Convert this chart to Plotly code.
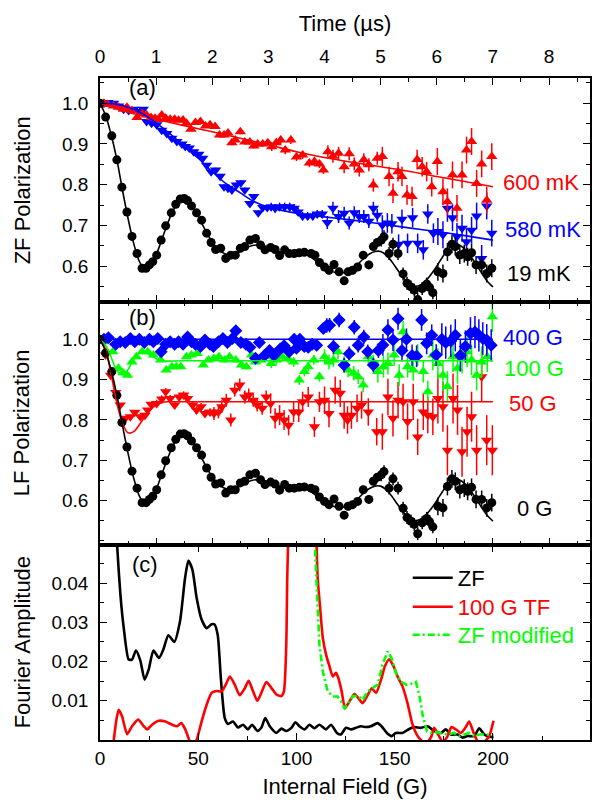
import plotly.graph_objects as go

# ---------------- data: panel (a) ZF, panel (b) LF (time in microseconds) ----------------
t_zf = [0.00, 0.10, 0.21, 0.30, 0.39, 0.48, 0.57, 0.66, 0.75, 0.82, 0.88, 0.94, 1.01, 1.09, 1.17, 1.27, 1.35, 1.43, 1.50, 1.56,
        1.63, 1.72, 1.81, 1.90, 1.98, 2.06, 2.15, 2.24, 2.33, 2.41, 2.50, 2.58, 2.67, 2.77, 2.86, 2.94, 3.04, 3.12, 3.20, 3.29,
        3.37, 3.46, 3.55, 3.64, 3.76, 3.83, 3.91, 4.00, 4.08, 4.17, 4.26, 4.35, 4.42, 4.50, 4.59, 4.69, 4.79, 4.87, 4.94, 5.01,
        5.06, 5.15, 5.22, 5.31, 5.40, 5.47, 5.54, 5.60, 5.66, 5.74, 5.82, 5.87, 5.93, 6.02, 6.11, 6.19, 6.27, 6.33, 6.41, 6.49,
        6.55, 6.62, 6.70, 6.80, 6.89, 6.98]
p_zf = [1.000, 0.966, 0.920, 0.861, 0.794, 0.733, 0.673, 0.631, 0.595, 0.595, 0.603, 0.611, 0.627, 0.664, 0.699, 0.731, 0.752, 0.765, 0.766, 0.761,
        0.748, 0.731, 0.713, 0.681, 0.658, 0.641, 0.644, 0.619, 0.627, 0.627, 0.644, 0.648, 0.664, 0.668, 0.652, 0.640, 0.646, 0.641, 0.626, 0.640,
        0.631, 0.631, 0.633, 0.634, 0.631, 0.627, 0.609, 0.598, 0.590, 0.604, 0.586, 0.564, 0.586, 0.590, 0.598, 0.627, 0.603, 0.648, 0.658, 0.664,
        0.672, 0.631, 0.654, 0.631, 0.581, 0.558, 0.549, 0.541, 0.518, 0.545, 0.556, 0.548, 0.535, 0.586, 0.582, 0.635, 0.654, 0.648, 0.627, 0.631,
        0.623, 0.633, 0.603, 0.603, 0.582, 0.595]
e_zf = [0.003, 0.003, 0.003, 0.003, 0.003, 0.003, 0.003, 0.003, 0.003, 0.003, 0.003, 0.003, 0.003, 0.003, 0.003, 0.003, 0.003, 0.003, 0.003, 0.003,
        0.003, 0.003, 0.003, 0.003, 0.003, 0.003, 0.003, 0.003, 0.003, 0.003, 0.003, 0.003, 0.003, 0.003, 0.003, 0.003, 0.006, 0.006, 0.006, 0.006,
        0.006, 0.006, 0.006, 0.006, 0.006, 0.006, 0.006, 0.010, 0.010, 0.010, 0.010, 0.010, 0.010, 0.010, 0.010, 0.010, 0.010, 0.010, 0.010, 0.016,
        0.016, 0.016, 0.016, 0.016, 0.016, 0.016, 0.016, 0.016, 0.016, 0.016, 0.016, 0.016, 0.016, 0.022, 0.022, 0.022, 0.022, 0.022, 0.022, 0.022,
        0.022, 0.022, 0.022, 0.022, 0.022, 0.022]

t_r600 = [0.07, 0.14, 0.24, 0.33, 0.42, 0.48, 0.57, 0.66, 0.75, 0.83, 0.91, 0.98, 1.04, 1.10, 1.17, 1.25, 1.33, 1.40, 1.48, 1.54,
          1.62, 1.70, 1.79, 1.88, 1.96, 2.05, 2.13, 2.21, 2.28, 2.35, 2.41, 2.50, 2.58, 2.67, 2.74, 2.81, 2.90, 2.99, 3.06, 3.14,
          3.22, 3.30, 3.40, 3.50, 3.61, 3.73, 3.82, 3.91, 3.98, 4.06, 4.15, 4.25, 4.35, 4.44, 4.53, 4.62, 4.70, 4.79, 4.87, 4.94,
          5.03, 5.15, 5.22, 5.31, 5.38, 5.47, 5.56, 5.65, 5.74, 5.82, 5.91, 6.01, 6.11, 6.19, 6.28, 6.36, 6.45, 6.53, 6.62, 6.71,
          6.80, 6.89, 6.98]
p_r600 = [1.000, 0.997, 0.993, 0.990, 0.985, 0.990, 0.982, 0.965, 0.975, 0.971, 0.965, 0.963, 0.960, 0.971, 0.963, 0.961, 0.961, 0.958, 0.959, 0.951,
          0.936, 0.953, 0.955, 0.944, 0.947, 0.943, 0.922, 0.922, 0.927, 0.903, 0.910, 0.930, 0.905, 0.905, 0.895, 0.900, 0.900, 0.903, 0.893, 0.903,
          0.910, 0.885, 0.910, 0.868, 0.873, 0.853, 0.857, 0.851, 0.836, 0.881, 0.870, 0.877, 0.844, 0.876, 0.851, 0.836, 0.861, 0.849, 0.799, 0.865,
          0.869, 0.820, 0.779, 0.832, 0.820, 0.775, 0.771, 0.862, 0.844, 0.832, 0.795, 0.857, 0.783, 0.758, 0.824, 0.742, 0.824, 0.885, 0.906, 0.803,
          0.851, 0.762, 0.869]
e_r600 = [0.004, 0.004, 0.004, 0.004, 0.004, 0.004, 0.004, 0.004, 0.004, 0.004, 0.004, 0.004, 0.004, 0.004, 0.004, 0.004, 0.004, 0.004, 0.004, 0.004,
          0.004, 0.004, 0.004, 0.004, 0.004, 0.006, 0.006, 0.006, 0.006, 0.006, 0.006, 0.006, 0.006, 0.006, 0.006, 0.006, 0.006, 0.006, 0.010, 0.010,
          0.010, 0.010, 0.010, 0.010, 0.010, 0.010, 0.010, 0.010, 0.010, 0.016, 0.016, 0.016, 0.016, 0.016, 0.016, 0.016, 0.016, 0.016, 0.016, 0.016,
          0.024, 0.024, 0.024, 0.024, 0.024, 0.024, 0.024, 0.024, 0.024, 0.024, 0.024, 0.033, 0.033, 0.033, 0.033, 0.033, 0.033, 0.033, 0.033, 0.033,
          0.033, 0.033, 0.033]

t_b580 = [0.07, 0.14, 0.24, 0.33, 0.42, 0.51, 0.60, 0.68, 0.77, 0.83, 0.92, 1.01, 1.10, 1.19, 1.28, 1.37, 1.46, 1.52, 1.59, 1.67,
          1.76, 1.83, 1.90, 1.98, 2.06, 2.14, 2.21, 2.28, 2.35, 2.43, 2.51, 2.58, 2.67, 2.74, 2.82, 2.90, 2.98, 3.05, 3.12, 3.20,
          3.29, 3.38, 3.46, 3.53, 3.61, 3.70, 3.79, 3.87, 3.96, 4.05, 4.15, 4.25, 4.35, 4.44, 4.53, 4.62, 4.70, 4.79, 4.87, 4.94,
          5.03, 5.12, 5.20, 5.32, 5.38, 5.48, 5.57, 5.66, 5.76, 5.84, 5.94, 6.02, 6.11, 6.19, 6.28, 6.36, 6.45, 6.53, 6.62, 6.71,
          6.80, 6.89, 6.98]
p_b580 = [1.000, 1.002, 1.000, 0.993, 0.985, 0.982, 0.985, 0.980, 0.985, 0.955, 0.951, 0.947, 0.934, 0.926, 0.914, 0.906, 0.900, 0.894, 0.890, 0.881,
          0.875, 0.865, 0.848, 0.832, 0.836, 0.821, 0.795, 0.791, 0.787, 0.799, 0.805, 0.787, 0.754, 0.771, 0.731, 0.744, 0.744, 0.746, 0.742, 0.746,
          0.746, 0.746, 0.742, 0.733, 0.723, 0.723, 0.723, 0.728, 0.728, 0.707, 0.742, 0.722, 0.730, 0.706, 0.731, 0.722, 0.722, 0.710, 0.742, 0.725,
          0.701, 0.706, 0.704, 0.654, 0.715, 0.656, 0.719, 0.656, 0.640, 0.728, 0.681, 0.685, 0.677, 0.742, 0.719, 0.673, 0.693, 0.660, 0.688, 0.723,
          0.619, 0.748, 0.681]
e_b580 = [0.004, 0.004, 0.004, 0.004, 0.004, 0.004, 0.004, 0.004, 0.004, 0.004, 0.004, 0.004, 0.004, 0.004, 0.004, 0.004, 0.004, 0.004, 0.004, 0.004,
          0.004, 0.004, 0.004, 0.004, 0.006, 0.006, 0.006, 0.006, 0.006, 0.006, 0.006, 0.006, 0.006, 0.006, 0.006, 0.006, 0.006, 0.010, 0.010, 0.010,
          0.010, 0.010, 0.010, 0.010, 0.010, 0.010, 0.010, 0.010, 0.010, 0.016, 0.016, 0.016, 0.016, 0.016, 0.016, 0.016, 0.016, 0.016, 0.016, 0.016,
          0.024, 0.024, 0.024, 0.024, 0.024, 0.024, 0.024, 0.024, 0.024, 0.024, 0.024, 0.033, 0.033, 0.033, 0.033, 0.033, 0.033, 0.033, 0.033, 0.033,
          0.033, 0.033, 0.033]

t_b400 = [0.07, 0.15, 0.28, 0.36, 0.45, 0.54, 0.62, 0.70, 0.79, 0.88, 0.95, 1.03, 1.09, 1.17, 1.25, 1.33, 1.40, 1.48, 1.56, 1.63,
          1.70, 1.79, 1.87, 1.96, 2.02, 2.11, 2.19, 2.27, 2.36, 2.42, 2.51, 2.60, 2.67, 2.77, 2.84, 2.93, 3.02, 3.10, 3.21, 3.28,
          3.37, 3.46, 3.50, 3.56, 3.64, 3.71, 3.78, 3.86, 3.98, 4.04, 4.09, 4.16, 4.26, 4.35, 4.44, 4.53, 4.60, 4.70, 4.77, 4.87,
          4.96, 5.04, 5.13, 5.22, 5.31, 5.38, 5.46, 5.56, 5.64, 5.73, 5.82, 5.91, 5.99, 6.09, 6.16, 6.25, 6.33, 6.42, 6.51, 6.60,
          6.68, 6.75, 6.82, 6.89, 6.97]
p_b400 = [1.000, 1.004, 0.988, 0.994, 0.992, 1.002, 0.994, 1.000, 0.992, 1.000, 0.994, 1.002, 0.969, 0.988, 0.994, 0.988, 0.994, 0.988, 1.006, 0.994,
          0.988, 0.982, 0.998, 0.988, 0.982, 0.994, 1.002, 0.992, 1.002, 1.021, 0.992, 0.988, 0.980, 0.953, 0.992, 0.960, 0.972, 0.960, 0.976, 0.984,
          0.969, 1.000, 0.978, 1.000, 0.982, 0.980, 0.988, 0.985, 1.027, 1.034, 1.035, 0.982, 1.048, 0.936, 0.964, 1.030, 0.985, 1.006, 0.969, 0.936,
          0.972, 0.986, 1.023, 0.998, 1.051, 0.972, 1.000, 0.960, 0.958, 1.048, 0.990, 1.010, 0.961, 1.000, 0.992, 0.996, 1.010, 0.960, 0.982, 1.015,
          1.018, 1.010, 1.002, 0.998, 0.985]
e_b400 = [0.004, 0.004, 0.004, 0.004, 0.004, 0.004, 0.004, 0.004, 0.004, 0.004, 0.004, 0.004, 0.004, 0.004, 0.004, 0.004, 0.004, 0.004, 0.004, 0.004,
          0.004, 0.004, 0.004, 0.004, 0.007, 0.007, 0.007, 0.007, 0.007, 0.007, 0.007, 0.007, 0.007, 0.007, 0.007, 0.007, 0.012, 0.012, 0.012, 0.012,
          0.012, 0.012, 0.012, 0.012, 0.012, 0.012, 0.012, 0.012, 0.012, 0.018, 0.018, 0.018, 0.018, 0.018, 0.018, 0.018, 0.018, 0.018, 0.018, 0.018,
          0.018, 0.027, 0.027, 0.027, 0.027, 0.027, 0.027, 0.027, 0.027, 0.027, 0.027, 0.027, 0.027, 0.040, 0.040, 0.040, 0.040, 0.040, 0.040, 0.040,
          0.040, 0.040, 0.040, 0.040, 0.040]

t_g100 = [0.07, 0.23, 0.33, 0.41, 0.49, 0.57, 0.65, 0.75, 0.85, 0.95, 1.08, 1.18, 1.28, 1.36, 1.44, 1.54, 1.63, 1.73, 1.84, 1.93,
          2.03, 2.12, 2.22, 2.31, 2.42, 2.52, 2.61, 2.70, 2.77, 2.86, 2.95, 3.05, 3.14, 3.25, 3.35, 3.45, 3.55, 3.64, 3.71, 3.81,
          3.91, 4.00, 4.08, 4.16, 4.24, 4.35, 4.42, 4.52, 4.60, 4.69, 4.78, 4.87, 4.95, 5.05, 5.13, 5.24, 5.33, 5.40, 5.48, 5.58,
          5.66, 5.76, 5.84, 5.93, 6.02, 6.11, 6.19, 6.29, 6.37, 6.45, 6.54, 6.62, 6.71, 6.80, 6.90, 6.99]
p_g100 = [0.994, 0.969, 0.928, 0.917, 0.911, 0.944, 0.957, 0.969, 0.969, 0.961, 0.949, 0.924, 0.932, 0.932, 0.932, 0.957, 0.961, 0.965, 0.936, 0.949,
          0.953, 0.957, 0.949, 0.957, 0.949, 0.936, 0.932, 0.961, 0.944, 0.949, 0.957, 0.940, 0.949, 0.957, 0.953, 0.944, 0.899, 0.920, 0.932, 0.949,
          0.907, 0.957, 0.944, 0.949, 0.969, 0.940, 0.924, 0.916, 0.907, 0.887, 0.957, 0.944, 0.920, 0.932, 0.940, 0.961, 0.911, 1.019, 0.932, 0.924,
          0.961, 0.920, 0.870, 0.961, 0.940, 0.911, 0.883, 0.957, 0.928, 0.953, 0.969, 0.949, 0.911, 0.944, 0.957, 1.056]
e_g100 = [0.004, 0.004, 0.004, 0.004, 0.004, 0.004, 0.004, 0.004, 0.004, 0.004, 0.004, 0.004, 0.004, 0.004, 0.004, 0.004, 0.004, 0.004, 0.004, 0.004,
          0.007, 0.007, 0.007, 0.007, 0.007, 0.007, 0.007, 0.007, 0.007, 0.007, 0.007, 0.012, 0.012, 0.012, 0.012, 0.012, 0.012, 0.012, 0.012, 0.012,
          0.012, 0.018, 0.018, 0.018, 0.018, 0.018, 0.018, 0.018, 0.018, 0.018, 0.018, 0.018, 0.027, 0.027, 0.027, 0.027, 0.027, 0.027, 0.027, 0.027,
          0.027, 0.027, 0.027, 0.038, 0.038, 0.038, 0.038, 0.038, 0.038, 0.038, 0.038, 0.038, 0.038, 0.038, 0.038, 0.038]

t_r50 = [0.10, 0.19, 0.28, 0.36, 0.45, 0.54, 0.62, 0.72, 0.80, 0.85, 0.91, 1.01, 1.10, 1.17, 1.25, 1.33, 1.41, 1.49, 1.56, 1.65,
         1.72, 1.80, 1.87, 1.96, 2.03, 2.11, 2.17, 2.25, 2.33, 2.40, 2.49, 2.58, 2.65, 2.73, 2.80, 2.89, 2.96, 3.04, 3.12, 3.20,
         3.28, 3.36, 3.45, 3.54, 3.61, 3.71, 3.82, 3.91, 4.00, 4.08, 4.19, 4.28, 4.35, 4.41, 4.48, 4.58, 4.66, 4.78, 4.93, 5.03,
         5.13, 5.22, 5.31, 5.40, 5.48, 5.58, 5.66, 5.76, 5.84, 5.93, 6.02, 6.11, 6.19, 6.29, 6.37, 6.45, 6.54, 6.62, 6.71, 6.80,
         6.89, 6.99]
p_r50 = [0.961, 0.911, 0.868, 0.837, 0.804, 0.808, 0.819, 0.808, 0.812, 0.825, 0.839, 0.841, 0.852, 0.870, 0.853, 0.837, 0.857, 0.862, 0.853, 0.837,
         0.825, 0.833, 0.816, 0.820, 0.816, 0.820, 0.833, 0.849, 0.800, 0.874, 0.887, 0.857, 0.862, 0.849, 0.837, 0.829, 0.857, 0.841, 0.804, 0.812,
         0.800, 0.787, 0.820, 0.820, 0.845, 0.857, 0.783, 0.845, 0.849, 0.816, 0.874, 0.866, 0.812, 0.800, 0.812, 0.829, 0.837, 0.820, 0.771, 0.771,
         0.857, 0.804, 0.849, 0.845, 0.796, 0.845, 0.758, 0.820, 0.812, 0.808, 0.853, 0.833, 0.725, 0.853, 0.825, 0.721, 0.771, 0.808, 0.725, 0.907,
         0.750, 0.725]
e_r50 = [0.005, 0.005, 0.005, 0.005, 0.005, 0.005, 0.005, 0.005, 0.005, 0.005, 0.005, 0.009, 0.009, 0.009, 0.009, 0.009, 0.009, 0.009, 0.009, 0.009,
         0.009, 0.009, 0.009, 0.009, 0.016, 0.016, 0.016, 0.016, 0.016, 0.016, 0.016, 0.016, 0.016, 0.016, 0.016, 0.016, 0.016, 0.025, 0.025, 0.025,
         0.025, 0.025, 0.025, 0.025, 0.025, 0.025, 0.025, 0.025, 0.034, 0.034, 0.034, 0.034, 0.034, 0.034, 0.034, 0.034, 0.034, 0.034, 0.034, 0.045,
         0.045, 0.045, 0.045, 0.045, 0.045, 0.045, 0.045, 0.045, 0.045, 0.045, 0.062, 0.062, 0.062, 0.062, 0.062, 0.062, 0.062, 0.062, 0.062, 0.062,
         0.062, 0.062]

# fit curves
tf_zf = [0.0, 0.1, 0.2, 0.3, 0.4, 0.5, 0.6, 0.7, 0.8, 0.9, 1.0, 1.1, 1.2, 1.3, 1.4, 1.5, 1.6, 1.7, 1.8, 1.9,
         2.0, 2.1, 2.2, 2.3, 2.4, 2.5, 2.6, 2.7, 2.8, 2.9, 3.0, 3.1, 3.2, 3.3, 3.4, 3.5, 3.6, 3.7, 3.8, 3.9,
         4.0, 4.1, 4.2, 4.3, 4.4, 4.5, 4.6, 4.7, 4.8, 4.9, 5.0, 5.1, 5.2, 5.3, 5.4, 5.5, 5.6, 5.7, 5.8, 5.9,
         6.0, 6.1, 6.2, 6.3, 6.4, 6.5, 6.6, 6.7, 6.8, 6.9, 7.0]
pf_zf = [1.000, 0.970, 0.922, 0.862, 0.787, 0.717, 0.656, 0.612, 0.592, 0.600, 0.627, 0.665, 0.703, 0.736, 0.756, 0.763, 0.755, 0.735, 0.709, 0.682,
         0.659, 0.642, 0.632, 0.628, 0.630, 0.636, 0.644, 0.650, 0.652, 0.650, 0.645, 0.640, 0.636, 0.634, 0.634, 0.634, 0.632, 0.627, 0.618, 0.607,
         0.597, 0.589, 0.584, 0.583, 0.586, 0.594, 0.606, 0.619, 0.630, 0.636, 0.636, 0.627, 0.611, 0.591, 0.572, 0.558, 0.551, 0.553, 0.563, 0.580,
         0.600, 0.622, 0.642, 0.654, 0.652, 0.642, 0.625, 0.605, 0.583, 0.563, 0.549]
tf_r600 = [0.0, 0.5, 1.0, 1.5, 2.0, 2.5, 3.0, 3.5, 4.0, 4.5, 5.0, 5.5, 6.0, 6.5, 7.0]
pf_r600 = [1.000, 0.978, 0.961, 0.945, 0.930, 0.914, 0.898, 0.881, 0.867, 0.855, 0.844, 0.833, 0.820, 0.808, 0.795]
tf_b580 = [0.0, 0.25, 0.5, 0.75, 1.0, 1.25, 1.5, 1.75, 2.0, 2.25, 2.5, 2.75, 3.0, 3.5, 4.0, 4.5, 5.0, 5.5, 6.0, 6.5, 7.0]
pf_b580 = [1.000, 0.998, 0.990, 0.975, 0.952, 0.925, 0.895, 0.865, 0.832, 0.802, 0.780, 0.758, 0.745, 0.730, 0.721, 0.713, 0.704, 0.694, 0.685, 0.675, 0.664]
tf_b400 = [0.0, 7.0]
pf_b400 = [1.000, 1.000]
tf_g100 = [0.0, 0.1, 0.2, 0.3, 0.4, 0.5, 0.6, 0.7, 0.8, 0.9, 1.0, 1.1, 1.2, 1.5, 7.0]
pf_g100 = [1.000, 0.985, 0.955, 0.922, 0.912, 0.925, 0.950, 0.966, 0.968, 0.961, 0.952, 0.947, 0.946, 0.947, 0.947]
tf_r50 = [0.0, 0.1, 0.2, 0.3, 0.4, 0.5, 0.6, 0.7, 0.8, 0.9, 1.0, 1.1, 1.2, 1.5, 7.0]
pf_r50 = [1.000, 0.975, 0.912, 0.842, 0.792, 0.768, 0.771, 0.788, 0.808, 0.826, 0.837, 0.843, 0.845, 0.845, 0.845]

# ---------------- data: panel (c) Fourier amplitude vs internal field (G) ----------------
f_zf = [8.0, 8.7, 10.4, 12.1, 14.6, 16.3, 18.3, 20.5, 22.7, 24.8, 27.2, 30.0, 32.2, 34.8, 37.8, 40.7, 43.3, 45.0, 47.0, 49.2,
        51.7, 54.3, 56.8, 58.2, 59.9, 61.5, 63.5, 65.2, 67.7, 70.2, 72.8, 75.3, 77.4, 80.1, 82.1, 84.1, 86.4, 89.8, 92.3, 94.8,
        97.4, 99.5, 101.5, 104.1, 106.6, 109.1, 111.7, 115.0, 117.6, 120.6, 122.6, 125.2, 127.8, 130.3, 132.8, 135.4, 137.9, 141.3, 143.3, 146.0,
        148.4, 150.6, 154.0, 157.4, 159.9, 163.3, 166.7, 170.1, 173.5, 176.0, 178.6, 182.0, 184.5, 187.1, 190.5, 193.0, 195.6, 198.1, 200.3]
a_zf = [0.060, 0.0498, 0.037, 0.0285, 0.0205, 0.0205, 0.0228, 0.0203, 0.0154, 0.018, 0.0228, 0.0209, 0.023, 0.0267, 0.025, 0.0302, 0.0413, 0.0457, 0.0435, 0.0362,
        0.0307, 0.0285, 0.0295, 0.0295, 0.0268, 0.0158, 0.0056, 0.0041, 0.0047, 0.0032, 0.0039, 0.0027, 0.0039, 0.0023, 0.0031, 0.0056, 0.0035, 0.0018, 0.0029, 0.0023,
        0.0031, 0.0045, 0.0035, 0.0027, 0.0039, 0.0030, 0.0039, 0.0027, 0.0039, 0.0018, 0.0014, 0.0031, 0.0027, 0.0031, 0.0035, 0.0033, 0.0035, 0.0043, 0.0035, 0.0018,
        0.0010, 0.0018, 0.0018, 0.0028, 0.0033, 0.0031, 0.0035, 0.0023, 0.0018, 0.0027, 0.0014, 0.0014, 0.0006, 0.0010, 0.0010, 0.0030, 0.0014, 0.0008, 0.0008]
f_tf = [6.0, 7.0, 8.3, 9.5, 11.2, 13.8, 16.3, 19.4, 22.3, 24.0, 26.5, 29.9, 33.3, 36.7, 39.2, 41.4, 43.4, 45.4, 47.3, 49.2,
        51.7, 54.3, 56.8, 59.4, 61.9, 64.0, 66.1, 68.6, 71.1, 73.7, 75.7, 77.9, 80.1, 82.1, 84.7, 87.2, 89.8, 92.3, 93.6, 94.8,
        95.3, 96.0, 97.0, 109.5, 110.0, 110.8, 112.2, 113.4, 115.1, 116.8, 118.5, 120.1, 121.3, 123.0, 124.7, 126.9, 129.5, 131.5, 133.7, 135.9,
        138.3, 140.5, 143.3, 145.0, 147.2, 149.4, 151.8, 154.0, 156.5, 159.1, 161.3, 163.3, 165.5, 168.4, 170.1, 172.2, 174.5, 176.9, 178.9, 181.1,
        183.7, 186.2, 187.9, 190.2, 192.5, 195.5, 198.1, 200.3]
a_tf = [-0.003, 0.000, 0.005, 0.0077, 0.0061, 0.0015, 0.0035, 0.0052, 0.0035, 0.0027, 0.0039, 0.0049, 0.0047, 0.0039, 0.0035, 0.0043, 0.0027, 0.000, -0.002, 0.000,
        0.0047, 0.0090, 0.0120, 0.0125, 0.0124, 0.0141, 0.0162, 0.0141, 0.0114, 0.0132, 0.0151, 0.0124, 0.0100, 0.0120, 0.0148, 0.0133, 0.0116, 0.0112, 0.0124, 0.0243,
        0.0413, 0.055, 0.070, 0.070, 0.055, 0.0413, 0.0328, 0.0260, 0.0217, 0.0188, 0.0162, 0.0171, 0.0158, 0.0124, 0.0081, 0.0098, 0.0117, 0.0107, 0.0094, 0.0111,
        0.0132, 0.0120, 0.0158, 0.0188, 0.0206, 0.0188, 0.0158, 0.0136, 0.0094, 0.0039, 0.0013, 0.000, -0.001, 0.0006, 0.0031, 0.0013, -0.0005, 0.0010, 0.0033, 0.0027,
        0.0018, 0.0033, 0.0047, 0.0018, -0.0005, -0.0005, 0.0010, 0.0049]
f_zm = [109.0, 109.4, 110.5, 111.7, 113.4, 115.9, 118.5, 121.0, 122.7, 124.4, 126.0, 128.6, 131.1, 133.7, 136.2, 138.8, 141.3, 143.8, 146.4, 148.4,
        150.6, 153.2, 155.7, 158.2, 160.8, 162.5, 164.2, 166.4, 168.4, 170.1, 173.5, 176.9, 180.3, 182.8, 185.4, 187.9, 190.5, 193.0, 196.5, 200.3]
a_zm = [0.060, 0.0498, 0.037, 0.0243, 0.0175, 0.0124, 0.0111, 0.0111, 0.0098, 0.0081, 0.0090, 0.0111, 0.0113, 0.0102, 0.0124, 0.0132, 0.0141, 0.0192, 0.0226, 0.0209,
        0.0171, 0.0149, 0.0141, 0.0143, 0.0148, 0.0115, 0.0064, 0.0022, 0.0018, 0.0021, 0.0018, 0.0014, 0.0018, 0.0010, 0.0014, 0.0018, 0.0010, 0.0014, 0.0014, 0.0012]

# ---------------- figure ----------------
FONT = "Arial, 'Liberation Sans', sans-serif"
RED, BLUE, GREEN, BLACK = "#FF0000", "#0000FF", "#00FF00", "#000000"
W, H = 595, 802
ML, MR, MT, MB = 100, 3, 78, 62
PW, PH = W - ML - MR, H - MT - MB
TXT = 22

def px_x(x):
    return (x - ML) / PW

def px_y(y):
    return (H - MB - y) / PH

fig = go.Figure()

def data(t, p, e, symbol, color, size, xa, ya):
    n = min(len(t), len(p), len(e))
    fig.add_trace(go.Scatter(
        x=t[:n], y=p[:n], mode="markers", xaxis=xa, yaxis=ya, showlegend=False,
        marker=dict(symbol=symbol, color=color, size=size, line=dict(width=0)),
        error_y=dict(type="data", array=e[:n], visible=True, color=color, thickness=1.5, width=0)))

def fit(t, p, color, xa, ya, width=1.6):
    n = min(len(t), len(p))
    fig.add_trace(go.Scatter(x=t[:n], y=p[:n], mode="lines", xaxis=xa, yaxis=ya, showlegend=False,
                             line=dict(color=color, width=width, shape="spline", smoothing=0.8)))

# panel (a): x3/y3
data(t_b580, p_b580, e_b580, "triangle-down", BLUE, 10, "x3", "y3")
data(t_r600, p_r600, e_r600, "triangle-up", RED, 10, "x3", "y3")
data(t_zf, p_zf, e_zf, "circle", BLACK, 9, "x3", "y3")
fit(tf_r600, pf_r600, RED, "x3", "y3")
fit(tf_b580, pf_b580, BLUE, "x3", "y3")
fit(tf_zf, pf_zf, BLACK, "x3", "y3")

# panel (b): x2/y2
data(t_r50, p_r50, e_r50, "triangle-down", RED, 10, "x2", "y2")
data(t_g100, p_g100, e_g100, "triangle-up", GREEN, 10, "x2", "y2")
data(t_b400, p_b400, e_b400, "diamond", BLUE, 10, "x2", "y2")
data(t_zf, p_zf, e_zf, "circle", BLACK, 9, "x2", "y2")
fit(tf_b400, pf_b400, BLUE, "x2", "y2")
fit(tf_g100, pf_g100, GREEN, "x2", "y2")
fit(tf_r50, pf_r50, RED, "x2", "y2")
fit(tf_zf, pf_zf, BLACK, "x2", "y2")

# panel (c): x/y
fig.add_trace(go.Scatter(x=f_zf, y=a_zf, mode="lines", xaxis="x", yaxis="y", name="ZF", legend="legend",
                         line=dict(color=BLACK, width=2.6, shape="spline", smoothing=0.6)))
fig.add_trace(go.Scatter(x=f_tf, y=a_tf, mode="lines", xaxis="x", yaxis="y", legend="legend2",
                         name='<span style="color:#FF0000">100 G TF</span>',
                         line=dict(color=RED, width=2.6, shape="spline", smoothing=0.6)))
fig.add_trace(go.Scatter(x=f_zm, y=a_zm, mode="lines", xaxis="x", yaxis="y", legend="legend3",
                         name='<span style="color:#00FF00">ZF modified</span>',
                         line=dict(color=GREEN, width=2.6, dash="7px,3px,2px,3px")))

d_c = [0, px_y(545)]
d_b = [px_y(545), px_y(302)]
d_a = [px_y(302), 1]

TICKF = dict(family=FONT, size=19, color="black")
MINOR = dict(ticks="inside", ticklen=4, tickwidth=1.3, tickcolor="black")

def axis(**kw):
    base = dict(showline=True, linecolor="black", linewidth=1.5, mirror="ticks", ticks="inside",
                ticklen=7, tickwidth=1.3, tickcolor="black", showgrid=False, zeroline=False,
                tickfont=TICKF)
    base.update(kw)
    return base

def leg(y):
    return dict(x=px_x(409), y=px_y(y), xanchor="left", yanchor="middle", bgcolor="rgba(0,0,0,0)",
                font=dict(family=FONT, size=TXT, color="black"), itemwidth=40)

fig.update_layout(
    width=W, height=H, margin=dict(l=ML, r=MR, t=MT, b=MB),
    paper_bgcolor="white", plot_bgcolor="white",
    font=dict(family=FONT, color="black"),
    xaxis=axis(domain=[0, 1], range=[0, 249.4], anchor="y", tickmode="linear", tick0=0, dtick=50,
               minor=dict(MINOR, dtick=25, tick0=0),
               ticklabelstandoff=0,
               title=dict(text="Internal Field (G)", font=dict(family=FONT, size=TXT), standoff=11)),
    yaxis=axis(domain=d_c, range=[0, 0.0497], anchor="x", tickvals=[0.01, 0.02, 0.03, 0.04],
               ticktext=["0.01", "0.02", "0.03", "0.04"],
               minor=dict(MINOR, tickmode="linear", tick0=0, dtick=0.005),
               ticklabelstandoff=6),
    xaxis2=axis(domain=[0, 1], range=[0, 8.73], anchor="y2", tickmode="linear", tick0=0, dtick=1,
                showticklabels=False, minor=dict(MINOR, dtick=0.5, tick0=0)),
    yaxis2=axis(domain=d_b, range=[0.49, 1.0925], anchor="x2", tickvals=[0.6, 0.7, 0.8, 0.9, 1.0],
                ticktext=["0.6", "0.7", "0.8", "0.9", "1.0"],
                minor=dict(MINOR, tickmode="linear", tick0=0, dtick=0.05),
                ticklabelstandoff=6),
    xaxis3=axis(domain=[0, 1], range=[0, 8.73], anchor="y3", side="top", tickmode="linear", tick0=0, dtick=1,
                minor=dict(MINOR, dtick=0.5, tick0=0),
                ticklabelstandoff=6,
                title=dict(text="Time (µs)", font=dict(family=FONT, size=TXT), standoff=8)),
    yaxis3=axis(domain=d_a, range=[0.512, 1.062], anchor="x3", tickvals=[0.6, 0.7, 0.8, 0.9, 1.0],
                ticktext=["0.6", "0.7", "0.8", "0.9", "1.0"],
                minor=dict(MINOR, tickmode="linear", tick0=0, dtick=0.05),
                ticklabelstandoff=6),
    legend=leg(578), legend2=leg(607), legend3=leg(635),
    showlegend=True,
)

def label(text, x, y, color="black", size=TXT, angle=0):
    fig.add_annotation(text=text, x=px_x(x), y=px_y(y), xref="paper", yref="paper", showarrow=False,
                       font=dict(family=FONT, size=size, color=color), xanchor="center", yanchor="middle",
                       textangle=angle)

label("(a)", 143, 88)
label("(b)", 143, 317)
label("(c)", 145, 564)
label("600 mK", 543, 182, RED)
label("580 mK", 545, 230, BLUE)
label("19 mK", 541, 273, BLACK)
label("400 G", 535, 338, BLUE)
label("100 G", 536, 368, GREEN)
label("50 G", 535, 403, RED)
label("0 G", 536, 508, BLACK)
label("ZF Polarization", 22, 190, angle=-90)
label("LF Polarization", 22, 423, angle=-90)
label("Fourier Amplitude", 22, 642, angle=-90)

fig.write_html("out.html", config={"displayModeBar": False},
               post_script="document.body.style.margin='0';document.body.style.overflow='hidden';")
